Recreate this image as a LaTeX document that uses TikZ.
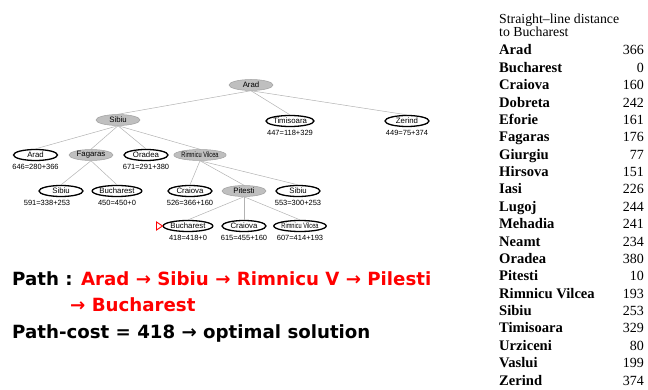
\documentclass[tikz,border=0pt]{standalone}
\usepackage{fontspec}
\setmainfont{Liberation Serif}
\setsansfont{Liberation Sans}
\newfontfamily\pathfont{DejaVu Sans}
\usepackage{graphicx}
\usepackage{xcolor}
\usetikzlibrary{positioning,shapes.geometric}

\begin{document}
\begin{tikzpicture}[
  x=1pt, y=-1pt,
  open/.style={ellipse, draw=black, line width=1.3pt, fill=white, minimum width=44pt, minimum height=11pt, inner sep=0pt, font=\sffamily\fontsize{7.8}{8}\selectfont},
  done/.style={open, draw=gray!75, line width=0.5pt, fill=gray!50},
  cost/.style={inner sep=0pt, font=\sffamily\fontsize{7.5}{8}\selectfont},
  edge/.style={draw=gray!60, line width=0.5pt},
  goalmark/.style={draw=red, line width=0.9pt},
  say/.style={anchor=base west, inner sep=0pt, font=\pathfont\bfseries\fontsize{18.2}{22}\selectfont},
  hd/.style={anchor=base west, inner sep=0pt, font=\fontsize{13.8}{15}\selectfont},
  dname/.style={anchor=base west, inner sep=0pt, font=\bfseries\fontsize{14.6}{16}\selectfont},
  dval/.style={anchor=base east, inner sep=0pt, font=\fontsize{14}{16}\selectfont}
]
\useasboundingbox (0,0) rectangle (648,390);
% search tree
\node[done] (root) at (251,85) {Arad};
\node[done] (sib) at (118,120) {Sibiu};
\node[open] (tim) at (290,121) {Timisoara};
\node[open] (zer) at (407,121) {Zerind};
\node[open] (ara2) at (35.5,155) {Arad};
\node[done] (fag) at (91,155) {Fagaras};
\node[open] (ora) at (146,155) {Oradea};
\node[done] (rim) at (200,155) {\scalebox{0.72}[1]{Rimnicu Vilcea}};
\node[open] (sib3) at (61,191) {Sibiu};
\node[open] (buc3) at (117,191) {Bucharest};
\node[open] (cra3) at (190,191) {Craiova};
\node[done] (pit) at (244,191) {Pitesti};
\node[open] (sib3b) at (298,191) {Sibiu};
\node[open] (buc4) at (188,226) {Bucharest};
\node[open] (cra4) at (244,226) {Craiova};
\node[open] (rim4) at (300,226) {\scalebox{0.72}[1]{Rimnicu Vilcea}};
% f = g + h
\node[cost, below=3pt of tim] (timf) {447=118+329};
\node[cost, below=3pt of zer] (zerf) {449=75+374};
\node[cost, below=3pt of ara2] (ara2f) {646=280+366};
\node[cost, below=3pt of ora] (oraf) {671=291+380};
\node[cost, below=3pt of sib3, xshift=-14pt] (sib3f) {591=338+253};
\node[cost, below=3pt of buc3] (buc3f) {450=450+0};
\node[cost, below=3pt of cra3] (cra3f) {526=366+160};
\node[cost, below=3pt of sib3b] (sib3bf) {553=300+253};
\node[cost, below=3pt of buc4] (buc4f) {418=418+0};
\node[cost, below=3pt of cra4] (cra4f) {615=455+160};
\node[cost, below=3pt of rim4] (rim4f) {607=414+193};
% edges
\draw[edge] (root.south) -- (sib.north);
\draw[edge] (root.south) -- (tim.north);
\draw[edge] (root.south) -- (zer.north);
\draw[edge] (sib.south) -- (ara2.north);
\draw[edge] (sib.south) -- (fag.north);
\draw[edge] (sib.south) -- (ora.north);
\draw[edge] (sib.south) -- (rim.north);
\draw[edge] (fag.south) -- (sib3.north);
\draw[edge] (fag.south) -- (buc3.north);
\draw[edge] (rim.south) -- (cra3.north);
\draw[edge] (rim.south) -- (pit.north);
\draw[edge] (rim.south) -- (sib3b.north);
\draw[edge] (pit.south) -- (buc4.north);
\draw[edge] (pit.south) -- (cra4.north);
\draw[edge] (pit.south) -- (rim4.north);
% goal marker
\draw[goalmark] (buc4.west) -- ++(-6,-4) -- ++(0,8) -- cycle;
% path text
\node[say] (path1) at (12,285) {Path : \textcolor{red}{Arad → Sibiu → Rimnicu V → Pilesti}};
\node[say, red] (path2) at (70,311.5) {→ Bucharest};
\node[say] (pathcost) at (12,338) {Path-cost = 418 → optimal solution};
% straight-line distances
\node[hd] (hd1) at (499,24) {Straight–line distance};
\node[hd] (hd2) at (499,37) {to Bucharest};
\node[dname] (dArad) at (499,55) {Arad}; \node[dval] (vArad) at (644,55) {366};
\node[dname] (dBuch) at (499,72.4) {Bucharest}; \node[dval] (vBuch) at (644,72.4) {0};
\node[dname] (dCrai) at (499,89.7) {Craiova}; \node[dval] (vCrai) at (644,89.7) {160};
\node[dname] (dDobr) at (499,107.1) {Dobreta}; \node[dval] (vDobr) at (644,107.1) {242};
\node[dname] (dEfor) at (499,124.5) {Eforie}; \node[dval] (vEfor) at (644,124.5) {161};
\node[dname] (dFaga) at (499,141.9) {Fagaras}; \node[dval] (vFaga) at (644,141.9) {176};
\node[dname] (dGiur) at (499,159.2) {Giurgiu}; \node[dval] (vGiur) at (644,159.2) {77};
\node[dname] (dHirs) at (499,176.6) {Hirsova}; \node[dval] (vHirs) at (644,176.6) {151};
\node[dname] (dIasi) at (499,194) {Iasi}; \node[dval] (vIasi) at (644,194) {226};
\node[dname] (dLugo) at (499,211.3) {Lugoj}; \node[dval] (vLugo) at (644,211.3) {244};
\node[dname] (dMeha) at (499,228.7) {Mehadia}; \node[dval] (vMeha) at (644,228.7) {241};
\node[dname] (dNeam) at (499,246.1) {Neamt}; \node[dval] (vNeam) at (644,246.1) {234};
\node[dname] (dOrad) at (499,263.4) {Oradea}; \node[dval] (vOrad) at (644,263.4) {380};
\node[dname] (dPite) at (499,280.8) {Pitesti}; \node[dval] (vPite) at (644,280.8) {10};
\node[dname] (dRimn) at (499,298.2) {Rimnicu Vilcea}; \node[dval] (vRimn) at (644,298.2) {193};
\node[dname] (dSibi) at (499,315.6) {Sibiu}; \node[dval] (vSibi) at (644,315.6) {253};
\node[dname] (dTimi) at (499,332.9) {Timisoara}; \node[dval] (vTimi) at (644,332.9) {329};
\node[dname] (dUrzi) at (499,350.3) {Urziceni}; \node[dval] (vUrzi) at (644,350.3) {80};
\node[dname] (dVasl) at (499,367.7) {Vaslui}; \node[dval] (vVasl) at (644,367.7) {199};
\node[dname] (dZeri) at (499,385) {Zerind}; \node[dval] (vZeri) at (644,385) {374};
\end{tikzpicture}
\end{document}
